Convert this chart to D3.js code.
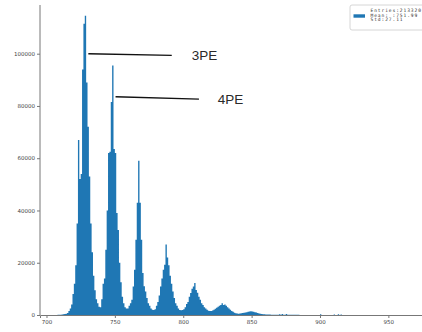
<!DOCTYPE html>
<html>
<head>
<meta charset="utf-8">
<script src="https://cdn.jsdelivr.net/npm/d3@7"></script>
<style>
  html, body { margin: 0; padding: 0; background: #fff; }
  svg { display: block; }
  .tick text { font-family: "DejaVu Sans", sans-serif; font-size: 5.5px; fill: #444; }
  .legend text { font-family: "DejaVu Sans Mono", monospace; font-size: 4.6px; letter-spacing: 0.9px; fill: #333; }
  .note { font-family: "Liberation Sans", Arial, sans-serif; font-size: 13.5px; fill: #2a2a2a; }
</style>
</head>
<body>
<svg id="chart" width="422" height="332"></svg>
<script>
// histogram, 1-unit bins starting at binStart
const binStart = 705;
const counts = [
  0, 0, 30, 50, 80, 120, 180, 250, 350, 500,                 // 705
  800, 1500, 2500, 4000, 8000, 12000, 19000, 35000, 67000, 52000, // 715
  54000, 94000, 111500, 114500, 89000, 72000, 53000, 35000, 24000, 15000, // 725
  9500, 6000, 4500, 3200, 3000, 6000, 12000, 14000, 25000, 40000, // 735
  62000, 62500, 81500, 95500, 63500, 62000, 39000, 32500, 20000, 12500, // 745
  7000, 4500, 3000, 2500, 2500, 3500, 4500, 5800, 10900, 17300, // 755
  28800, 43000, 59000, 43000, 28800, 16100, 11000, 9000, 6500, 4500, // 765
  3500, 2500, 2000, 1900, 2200, 3500, 5000, 7500, 10900, 14000, // 775
  17300, 19200, 27000, 22000, 19000, 15000, 12000, 9000, 6500, 4500, // 785
  3500, 2500, 1900, 1800, 1900, 2200, 3000, 4200, 5000, 7000, // 795
  8400, 10000, 10900, 12200, 9600, 8500, 7000, 5800, 4500, 3800, // 805
  3000, 2500, 2000, 1600, 1500, 1500, 1700, 2000, 2400, 2800, // 815
  3200, 3500, 3800, 4500, 3800, 4000, 3500, 3000, 2500, 2000, // 825
  1500, 1200, 900, 700, 600, 500, 600, 700, 800, 900,         // 835
  1000, 1100, 1200, 1300, 1400, 1300, 1200, 1100, 1000, 800,  // 845
  600, 500, 400, 300, 250, 200, 180, 160, 150, 140,           // 855
  130, 120, 110, 100, 100, 300, 120, 350, 100, 90,            // 865
  400, 80, 80, 70, 70, 60, 60, 50, 50, 50,                    // 875
  40, 40, 40, 40, 40, 30, 30, 30, 30, 30,                     // 885
  30, 30, 30, 30, 30, 250, 30, 20, 20, 20,                    // 895
  20, 20, 20, 20, 20, 200, 20, 20, 250, 20,                   // 905
  200, 10, 10, 10, 10                                         // 915
];

const xTicks = [700, 750, 800, 850, 900, 950];
const yTicks = [0, 20000, 40000, 60000, 80000, 100000];

const legendLines = ["Entries:213320", "Mean: :751.99", "Std:27.11"];

// annotation: label, line start [x, y], line end [x, y], text x
const notes = [
  { label: "3PE", from: [730.6, 100000], to: [791.6, 99350], textX: 806.2 },
  { label: "4PE", from: [750.5, 83500], to: [811.5, 82600], textX: 825.2 }
];

const svg = d3.select("#chart");
const x = d3.scaleLinear().domain([695.25, 974.6]).range([40, 422]);
const y = d3.scaleLinear().domain([0, 100000]).range([315, 53.7]);
const yTop = 5;

const bins = counts.map((c, i) => ({ x0: binStart + i, c }));
// closing step so the last bin keeps its width
bins.push({ x0: binStart + counts.length, c: 0 });

// bars drawn as one filled step outline (no seams between neighbouring bins)
const histArea = d3.area()
  .curve(d3.curveStepAfter)
  .x((d) => x(d.x0))
  .y0(y(0))
  .y1((d) => y(d.c));

svg.append("path")
  .datum(bins)
  .attr("d", histArea)
  .attr("fill", "#1f77b4");

// axes
const xAxis = svg.append("g")
  .attr("transform", `translate(0,${y(0)})`)
  .call(d3.axisBottom(x).tickValues(xTicks).tickSize(3).tickPadding(2).tickFormat(d3.format("d")));
xAxis.select(".domain").attr("stroke", "#777").attr("stroke-width", 1);
xAxis.selectAll(".tick line").attr("stroke", "#777");

const yAxis = svg.append("g")
  .attr("transform", `translate(${x.range()[0]},0)`)
  .call(d3.axisLeft(y).tickValues(yTicks).tickSize(3).tickPadding(2).tickFormat(d3.format("d")));
yAxis.select(".domain").remove();
yAxis.selectAll(".tick line").attr("stroke", "#777");
svg.append("line")
  .attr("x1", x.range()[0]).attr("x2", x.range()[0])
  .attr("y1", yTop).attr("y2", y(0))
  .attr("stroke", "#777");

// annotations
notes.forEach((n) => {
  svg.append("line")
    .attr("x1", x(n.from[0])).attr("y1", y(n.from[1]))
    .attr("x2", x(n.to[0])).attr("y2", y(n.to[1]))
    .attr("stroke", "#111").attr("stroke-width", 1.4);
  svg.append("text")
    .attr("class", "note")
    .attr("x", x(n.textX))
    .attr("y", y(n.to[1]))
    .attr("dy", "0.36em")
    .text(n.label);
});

// legend
const legend = svg.append("g").attr("class", "legend");
legend.append("rect")
  .attr("x", 350).attr("y", 5).attr("width", 80).attr("height", 25).attr("rx", 2)
  .attr("fill", "#fff").attr("stroke", "#ccc").attr("stroke-width", 0.8);
legend.append("rect")
  .attr("x", 353.5).attr("y", 14.3).attr("width", 11.5).attr("height", 3.4)
  .attr("fill", "#1f77b4");
legend.selectAll("text.item")
  .data(legendLines)
  .join("text")
  .attr("class", "item")
  .attr("x", 370.5)
  .attr("y", (d, i) => 10.6 + i * 4.4)
  .attr("dy", "0.35em")
  .text((d) => d);
</script>
</body>
</html>
